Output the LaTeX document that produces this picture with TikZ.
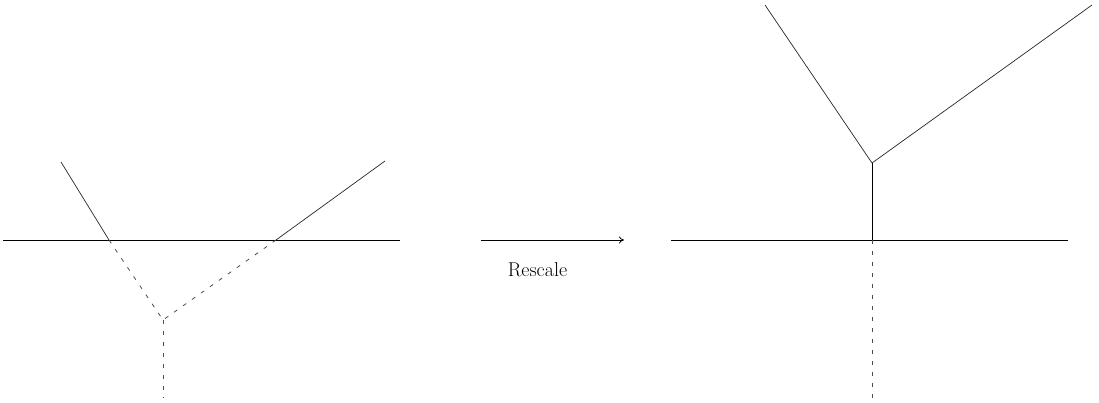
\documentclass[tikz,border=0pt]{standalone}
\usetikzlibrary{arrows.meta}
\tikzset{
  edge/.style={line width=0.8pt, black},
  slant/.style={line width=0.7pt, black!85},
  ghost/.style={line width=0.8pt, black!70, dash pattern=on 4pt off 7pt},
  lbl/.style={font=\fontsize{20}{24}\selectfont, inner sep=0pt, anchor=base}
}
\begin{document}
\begin{tikzpicture}[x=1pt,y=-1pt]
\useasboundingbox (0,0) rectangle (1099,403);
% left figure
\coordinate (L0) at (3,240);
\coordinate (L1) at (400,240);
\coordinate (A) at (61,162);
\coordinate (P) at (109,240);
\coordinate (B) at (385,161);
\coordinate (Q) at (276,240);
\coordinate (V) at (163,320);
\coordinate (Vb) at (163,398);
\draw[edge] (L0) -- (L1);
\draw[slant] (A) -- (P);
\draw[slant] (B) -- (Q);
\draw[ghost] (P) -- (V);
\draw[ghost] (Q) -- (V);
\draw[ghost] (V) -- (Vb);
% arrow
\coordinate (S) at (481,240);
\coordinate (T) at (624,240);
\draw[edge, -{To[length=5pt,width=7pt]}] (S) -- (T);
\node[lbl] (rescale) at (537.5,276) {Rescale};
% right figure
\coordinate (R0) at (671,240);
\coordinate (R1) at (1068,240);
\coordinate (C) at (872,240);
\coordinate (W) at (872,163);
\coordinate (D) at (765,5);
\coordinate (E) at (1092,5);
\coordinate (Cb) at (872,398);
\draw[edge] (R0) -- (R1);
\draw[edge] (C) -- (W);
\draw[slant] (W) -- (D);
\draw[slant] (W) -- (E);
\draw[ghost] (C) -- (Cb);
\end{tikzpicture}
\end{document}
